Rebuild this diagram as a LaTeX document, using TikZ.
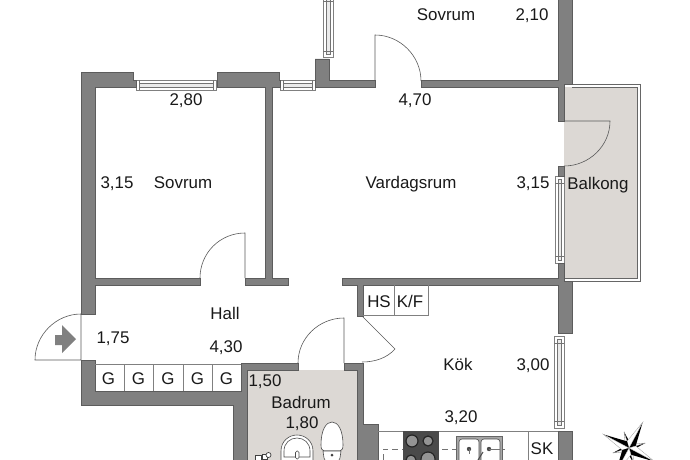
\documentclass[tikz,border=0pt]{standalone}
\usepackage{fontspec}
\setmainfont{Liberation Sans}
\definecolor{wallgray}{HTML}{808080}
\definecolor{walledge}{HTML}{5C5C5C}
\definecolor{tilegray}{HTML}{DCD8D4}
\definecolor{thinline}{HTML}{808080}
\definecolor{stovegray}{HTML}{4A4A4A}
\tikzset{
  wall/.style={fill=wallgray,draw=walledge,line width=0.7pt,line join=miter},
  label/.style={anchor=base,inner sep=0pt,font=\fontsize{16.9}{18}\selectfont,text=black!90},
  thin gray/.style={draw=thinline,line width=0.7pt},
  doorline/.style={draw=black!65,line width=0.6pt},
  winout/.style={draw=black!50,fill=white,line width=0.7pt},
  winin/.style={draw=black!55,fill=black!8,line width=0.6pt},
  fixture/.style={draw=black!70,fill=white,line width=0.6pt},
}
\newcommand{\hwin}[2]{%
  \draw[winout] (#1,80) rectangle (#2,90);
  \draw[winin] (#1+3,83) rectangle (#2-3,87);
  \draw[draw=black!55,line width=0.6pt] (#1+3,80) -- (#1+3,90) (#2-3,80) -- (#2-3,90);}
\newcommand{\vwin}[5]{%
  \draw[winout] (#1,#3) rectangle (#2,#4);
  \draw[winin] (#1+3,#3+3) rectangle (#2-3,#4-3);
  \draw[draw=black!55,line width=0.6pt] (#1,#3+#5) -- (#2,#3+#5) (#1,#4-#5) -- (#2,#4-#5);}
\begin{document}
\begin{tikzpicture}[x=1pt,y=-1pt]
\useasboundingbox (0,0) rectangle (690,460);
\clip (0,0) rectangle (690,460);
% wet rooms and balcony
\fill[tilegray] (247,370) rectangle (357,460);
\draw[draw=black!60,line width=0.7pt] (572,84) -- (640,84) -- (640,281) -- (572,281);
\fill[tilegray] (564,87) rectangle (637,278);
\draw[draw=black!60,line width=0.7pt] (572,87) -- (637,87) -- (637,278) -- (564,278);
% windows
\hwin{136}{216}
\hwin{280}{315}
\vwin{323}{333}{-5}{57}{6}
\vwin{555}{564}{176}{263}{7}
\vwin{554}{564}{336}{428}{7}
% walls
\draw[wall] (81,72) -- (133,72) -- (133,80) -- (136,80) -- (136,87) -- (95,87) -- (95,278) -- (200,278) -- (200,285) -- (95,285) -- (95,314) -- (81,314) -- cycle;
\draw[wall] (217,72) -- (279,72) -- (279,80) -- (280,80) -- (280,87) -- (272,87) -- (272,278) -- (288,278) -- (288,285) -- (245,285) -- (245,278) -- (265,278) -- (265,87) -- (217,87) -- cycle;
\draw[wall] (315,59) -- (329,59) -- (329,80) -- (375,80) -- (375,87) -- (315,87) -- cycle;
\draw[wall] (421,80) -- (558,80) -- (558,-2) -- (572,-2) -- (572,84) -- (564,84) -- (564,121) -- (558,121) -- (558,87) -- (421,87) -- cycle;
\draw[wall] (558,166) rectangle (564,176);
\draw[wall] (342,278) -- (558,278) -- (558,263) -- (564,263) -- (564,281) -- (572,281) -- (572,333) -- (558,333) -- (558,285) -- (363,285) -- (363,316) -- (357,316) -- (357,285) -- (342,285) -- cycle;
\draw[wall] (81,360) -- (95,360) -- (95,391) -- (241,391) -- (241,363) -- (298,363) -- (298,370) -- (247,370) -- (247,462) -- (233,462) -- (233,405) -- (81,405) -- cycle;
\draw[wall] (344,363) -- (363,363) -- (363,424) -- (378,424) -- (378,462) -- (357,462) -- (357,370) -- (344,370) -- cycle;
\draw[wall] (558,431) rectangle (572,462);
% doors
\draw[doorline] (245,278) -- (245,233) .. controls (220,233) and (200,253) .. (200,278);
\draw[doorline] (375,81) -- (375,35) .. controls (400,35) and (421,56) .. (421,81);
\draw[doorline] (564,121) -- (610,121) .. controls (610,146) and (589,166) .. (564,166);
\draw[doorline] (344,363) -- (344,318) .. controls (319,318) and (298,338) .. (298,363);
\draw[doorline] (362,316) -- (395,349) .. controls (387,358) and (375,362) .. (362,362);
\draw[doorline] (81,314) -- (81,360) -- (35,360) .. controls (35,335) and (56,314) .. (81,314);
\fill[wallgray] (55,335) -- (62,335) -- (62,325) -- (76,339) -- (62,353) -- (62,345) -- (55,345) -- cycle;
% closets
\draw[thin gray] (95,364) -- (241,364);
\foreach \x in {124,153,183,212} {\draw[thin gray] (\x,364) -- (\x,391);}
\draw[thin gray] (363,315) -- (428,315) -- (428,285);
\draw[thin gray] (394,285) -- (394,315);
% kitchen
\draw[thin gray] (378,431) -- (558,431);
\draw[thin gray] (528,431) -- (528,460);
\draw[draw=black!55,line width=0.7pt,dash pattern=on 6pt off 4pt] (383,460) -- (383,449) -- (505,449);
\fill[stovegray] (403,431) rectangle (439,460);
\foreach \cx/\cy/\r in {412/441/6,428/441/5,411/460/5} {
  \draw[draw=black!85,fill=black!42,line width=1.2pt] (\cx,\cy) circle[radius=\r];}
\draw[draw=black!85,fill=black!42,line width=1.2pt] (421,470) -- (421,459) .. controls (421,455) and (424,452) .. (428,452) .. controls (432,452) and (435,455) .. (435,459) -- (435,470) -- cycle;
\draw[draw=black!60,fill=black!35,line width=0.7pt] (456,436) rectangle (502,462);
\draw[fixture,rounded corners=3pt] (459,439) rectangle (479,465);
\draw[fixture,rounded corners=3pt] (481,439) rectangle (500,465);
\fill[black!70] (469,449) circle[radius=2.2] (489,449) circle[radius=2.2];
\draw[black!70,line width=1pt] (478,460) -- (483,452);
\draw[draw=black!55,line width=0.6pt] (469,449) -- (469,454) (489,449) -- (500,449);
% bathroom fixtures
\draw[fixture] (281,462) -- (281,451) .. controls (281,441) and (289,435) .. (297,435) .. controls (305,435) and (313,441) .. (313,451) -- (313,462);
\draw[fixture] (284,457) -- (284,451) .. controls (284,443) and (290,438) .. (297,438) .. controls (304,438) and (310,443) .. (310,451) -- (310,457) -- cycle;
\draw[fixture,rounded corners=1.5pt] (295.5,451) rectangle (299,459);
\draw[fixture] (321,445) .. controls (321,430) and (326,422) .. (332,422) .. controls (338,422) and (343,430) .. (343,445) .. controls (343,449) and (342,450) .. (340,451) -- (324,451) .. controls (322,450) and (321,449) .. (321,445) -- cycle;
\draw[fixture] (323,451) -- (341,451) -- (340,458) -- (338,462) -- (326,462) -- (324,458) -- cycle;
\fill[black!75] (332,455) circle[radius=1.5];
\draw[draw=black!75,fill=white,line width=0.7pt] (255,455) rectangle (261,460);
\draw[draw=black!75,fill=white,line width=0.7pt] (262,454) rectangle (267,459);
\draw[draw=black!75,fill=white,line width=0.7pt] (268.5,455) circle[radius=2.5];
% compass
\begin{scope}[shift={(629,448)}]
\foreach \a/\r in {-107/17,-17/17,73/17,163/17} {
  \fill[black] (0,0) -- (\a:\r) -- (\a+45:4) -- cycle;
  \filldraw[fill=white,draw=black!50,line width=0.3pt] (0,0) -- (\a:\r) -- (\a-45:4) -- cycle;}
\foreach \a/\r in {-62/29,-152/29,28/29,118/29} {
  \fill[black] (0,0) -- (\a:\r) -- (\a+45:7) -- cycle;
  \filldraw[fill=white,draw=black!40,line width=0.3pt] (0,0) -- (\a:\r) -- (\a-45:7) -- cycle;}
\end{scope}
% labels
\node[label] (sovrumtop) at (446,21) {Sovrum};
\node[label] (d210) at (532,21) {2,10};
\node[label] (d280) at (186,105) {2,80};
\node[label] (d470) at (415,105) {4,70};
\node[label] (d315a) at (117,188) {3,15};
\node[label] (sovrum) at (183,188) {Sovrum};
\node[label] (vardagsrum) at (411,188) {Vardagsrum};
\node[label] (d315b) at (533,188) {3,15};
\node[label] (balkong) at (598,189) {Balkong};
\node[label] (hall) at (225,319) {Hall};
\node[label] (d175) at (113,343) {1,75};
\node[label] (d430) at (226,352) {4,30};
\node[label] (g1) at (108.5,384) {G};
\node[label] (g2) at (138.5,384) {G};
\node[label] (g3) at (168,384) {G};
\node[label] (g4) at (197.5,384) {G};
\node[label] (g5) at (226.5,384) {G};
\node[label] (d150) at (265,386) {1,50};
\node[label] (badrum) at (301,408) {Badrum};
\node[label] (d180) at (302,428) {1,80};
\node[label] (hs) at (379,307) {HS};
\node[label] (kf) at (410,307) {K/F};
\node[label] (kok) at (458,370) {Kök};
\node[label] (d300) at (533,370) {3,00};
\node[label] (d320) at (461,422) {3,20};
\node[label] (sk) at (542,454) {SK};
\end{tikzpicture}
\end{document}
